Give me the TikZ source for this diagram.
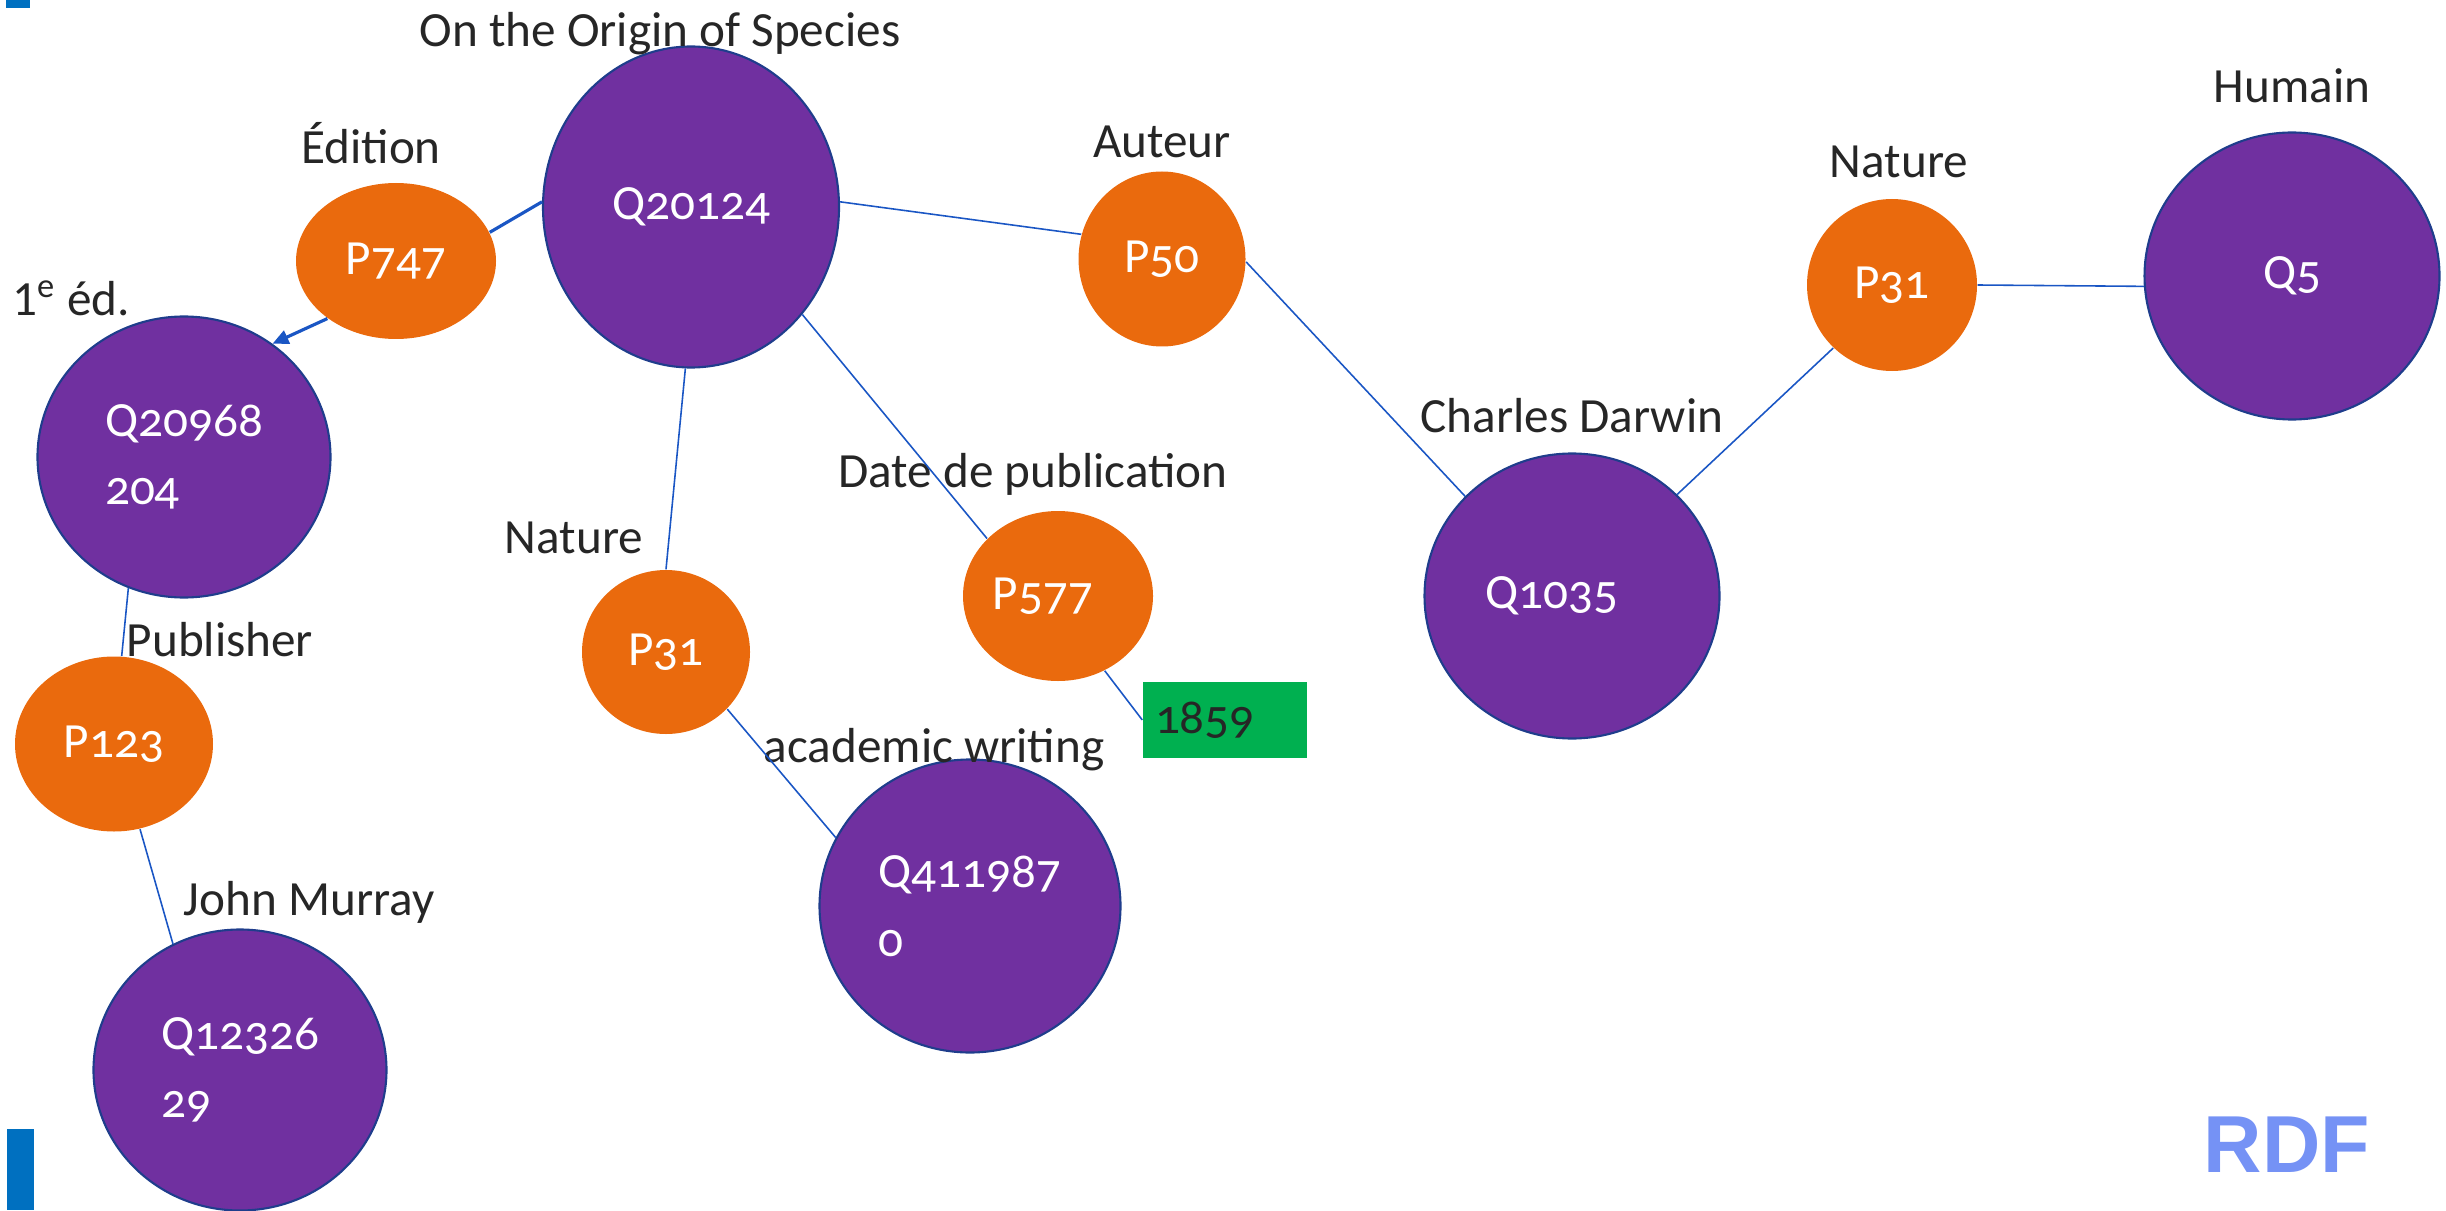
\documentclass[tikz,border=0pt]{standalone}
\usepackage{fontspec}
\setmainfont{Carlito}
\newfontfamily\numfont[Numbers=OldStyle]{Carlito}
\newfontfamily\rdffont{Liberation Sans}
\usetikzlibrary{positioning,shapes.geometric,arrows.meta}

\definecolor{itempurple}{HTML}{7030A0}
\definecolor{itemborder}{HTML}{1F3D8C}
\definecolor{proporange}{HTML}{EA6A0D}
\definecolor{valgreen}{HTML}{00B050}
\definecolor{linkblue}{HTML}{1A56C4}
\definecolor{labelgray}{HTML}{262626}
\definecolor{rdfblue}{HTML}{7592F5}
\definecolor{barblue}{HTML}{0070C0}

\begin{document}
\begin{tikzpicture}[node distance=0cm,
  item/.style={ellipse, draw=itemborder, line width=0.6pt, fill=itempurple, text=white, inner sep=0pt, align=left, font=\numfont\fontsize{14}{19.5}\selectfont},
  prop/.style={ellipse, fill=proporange, text=white, inner sep=0pt, font=\numfont\fontsize{14}{17}\selectfont},
  lbl/.style={inner sep=0pt, text=labelgray, text height=1.6ex, text depth=.25ex, font=\fontsize{14}{17}\selectfont},
  val/.style={rectangle, fill=valgreen, text=labelgray, inner xsep=0.12cm, inner ysep=0pt, text width=1.4cm, minimum height=0.76cm, align=left, font=\numfont\fontsize{14}{17}\selectfont},
  link/.style={draw=linkblue, line width=0.45pt}]
  \useasboundingbox (0,0) rectangle (24.46,-12.10);
  \fill[barblue] (0.06,0) rectangle (0.30,-0.08);
  \fill[barblue] (0.07,-11.29) rectangle (0.34,-12.10);

  % items
  \node[item, minimum width=2.96cm, minimum height=3.21cm] (Origin) at (6.91,-2.07) {Q20124};
  \node[item, minimum width=2.93cm, minimum height=2.81cm] (FirstEd) at (1.84,-4.57) {Q20968\\204};
  \node[item, minimum width=2.93cm, minimum height=2.81cm] (Murray) at (2.40,-10.70) {Q12326\\29};
  \node[item, minimum width=3.01cm, minimum height=2.93cm] (Academic) at (9.70,-9.06) {Q411987\\0};
  \node[item, minimum width=2.95cm, minimum height=2.85cm] (Darwin) at (15.72,-5.96) {Q1035\hspace*{0.4cm}};
  \node[item, minimum width=2.95cm, minimum height=2.87cm] (Human) at (22.92,-2.76) {Q5};

  % properties
  \node[prop, minimum width=2.00cm, minimum height=1.56cm] (Edition) at (3.96,-2.61) {P747};
  \node[prop, minimum width=1.67cm, minimum height=1.75cm] (Author) at (11.62,-2.59) {P50};
  \node[prop, minimum width=1.68cm, minimum height=1.64cm] (NatureM) at (6.66,-6.52) {P31};
  \node[prop, minimum width=1.90cm, minimum height=1.70cm] (PubDate) at (10.58,-5.96) {P577\hspace*{0.3cm}};
  \node[prop, minimum width=1.98cm, minimum height=1.75cm] (Publisher) at (1.14,-7.44) {P123};
  \node[prop, minimum width=1.70cm, minimum height=1.72cm] (NatureR) at (18.92,-2.85) {P31};

  \node[val] (Year) at (12.25,-7.20) {1859};

  % labels
  \node[lbl, above=-0.06cm of Origin, xshift=-0.31cm] (OriginLbl) {On the Origin of Species};
  \node[lbl, above=0.14cm of Edition, xshift=-0.25cm] (EditionLbl) {Édition};
  \node[lbl, above=-0.05cm of FirstEd, xshift=-1.13cm] (FirstEdLbl) {1\textsuperscript{e} éd.};
  \node[lbl, above=0.08cm of Author] (AuthorLbl) {Auteur};
  \node[lbl, above=0.16cm of NatureR, xshift=0.07cm] (NatureRLbl) {Nature};
  \node[lbl, above=0.24cm of Human] (HumanLbl) {Humain};
  \node[lbl, above=0.15cm of Darwin] (DarwinLbl) {Charles Darwin};
  \node[lbl, above=0.18cm of PubDate, xshift=-0.25cm] (PubDateLbl) {Date de publication};
  \node[lbl, above=0.11cm of NatureM, xshift=-0.92cm] (NatureMLbl) {Nature};
  \node[lbl, above=-0.06cm of Publisher, xshift=1.06cm] (PublisherLbl) {Publisher};
  \node[lbl, above=-0.09cm of Academic, xshift=-0.36cm] (AcademicLbl) {academic writing};
  \node[lbl, above=0.08cm of Murray, xshift=0.69cm] (MurrayLbl) {John Murray};

  \node[text=rdfblue, font=\rdffont\bfseries\fontsize{23}{27}\selectfont] (RDF) at (22.87,-11.45) {RDF};

  % links
  \draw[link, line width=0.9pt] (Origin.178) -- (Edition.17);
  \draw[link, line width=0.9pt, -{Triangle[length=1.6mm, width=1.4mm]}] (Edition.-140) -- (FirstEd.52);
  \draw[link] (Origin.2) -- (Author.163);
  \draw[link] (Origin.-92) -- (NatureM.90);
  \draw[link] (Origin.-44) -- (PubDate.141);
  \draw[link] (Author.-2) -- (Darwin.137);
  \draw[link] (Darwin.44) -- (NatureR.-133);
  \draw[link] (NatureR.0) -- (Human.184);
  \draw[link] (NatureM.-43) -- (Academic.153);
  \draw[link] (PubDate.-58) -- (Year.west);
  \draw[link] (FirstEd.-113) -- (Publisher.85);
  \draw[link] (Publisher.-73) -- (Murray.118);
\end{tikzpicture}
\end{document}
